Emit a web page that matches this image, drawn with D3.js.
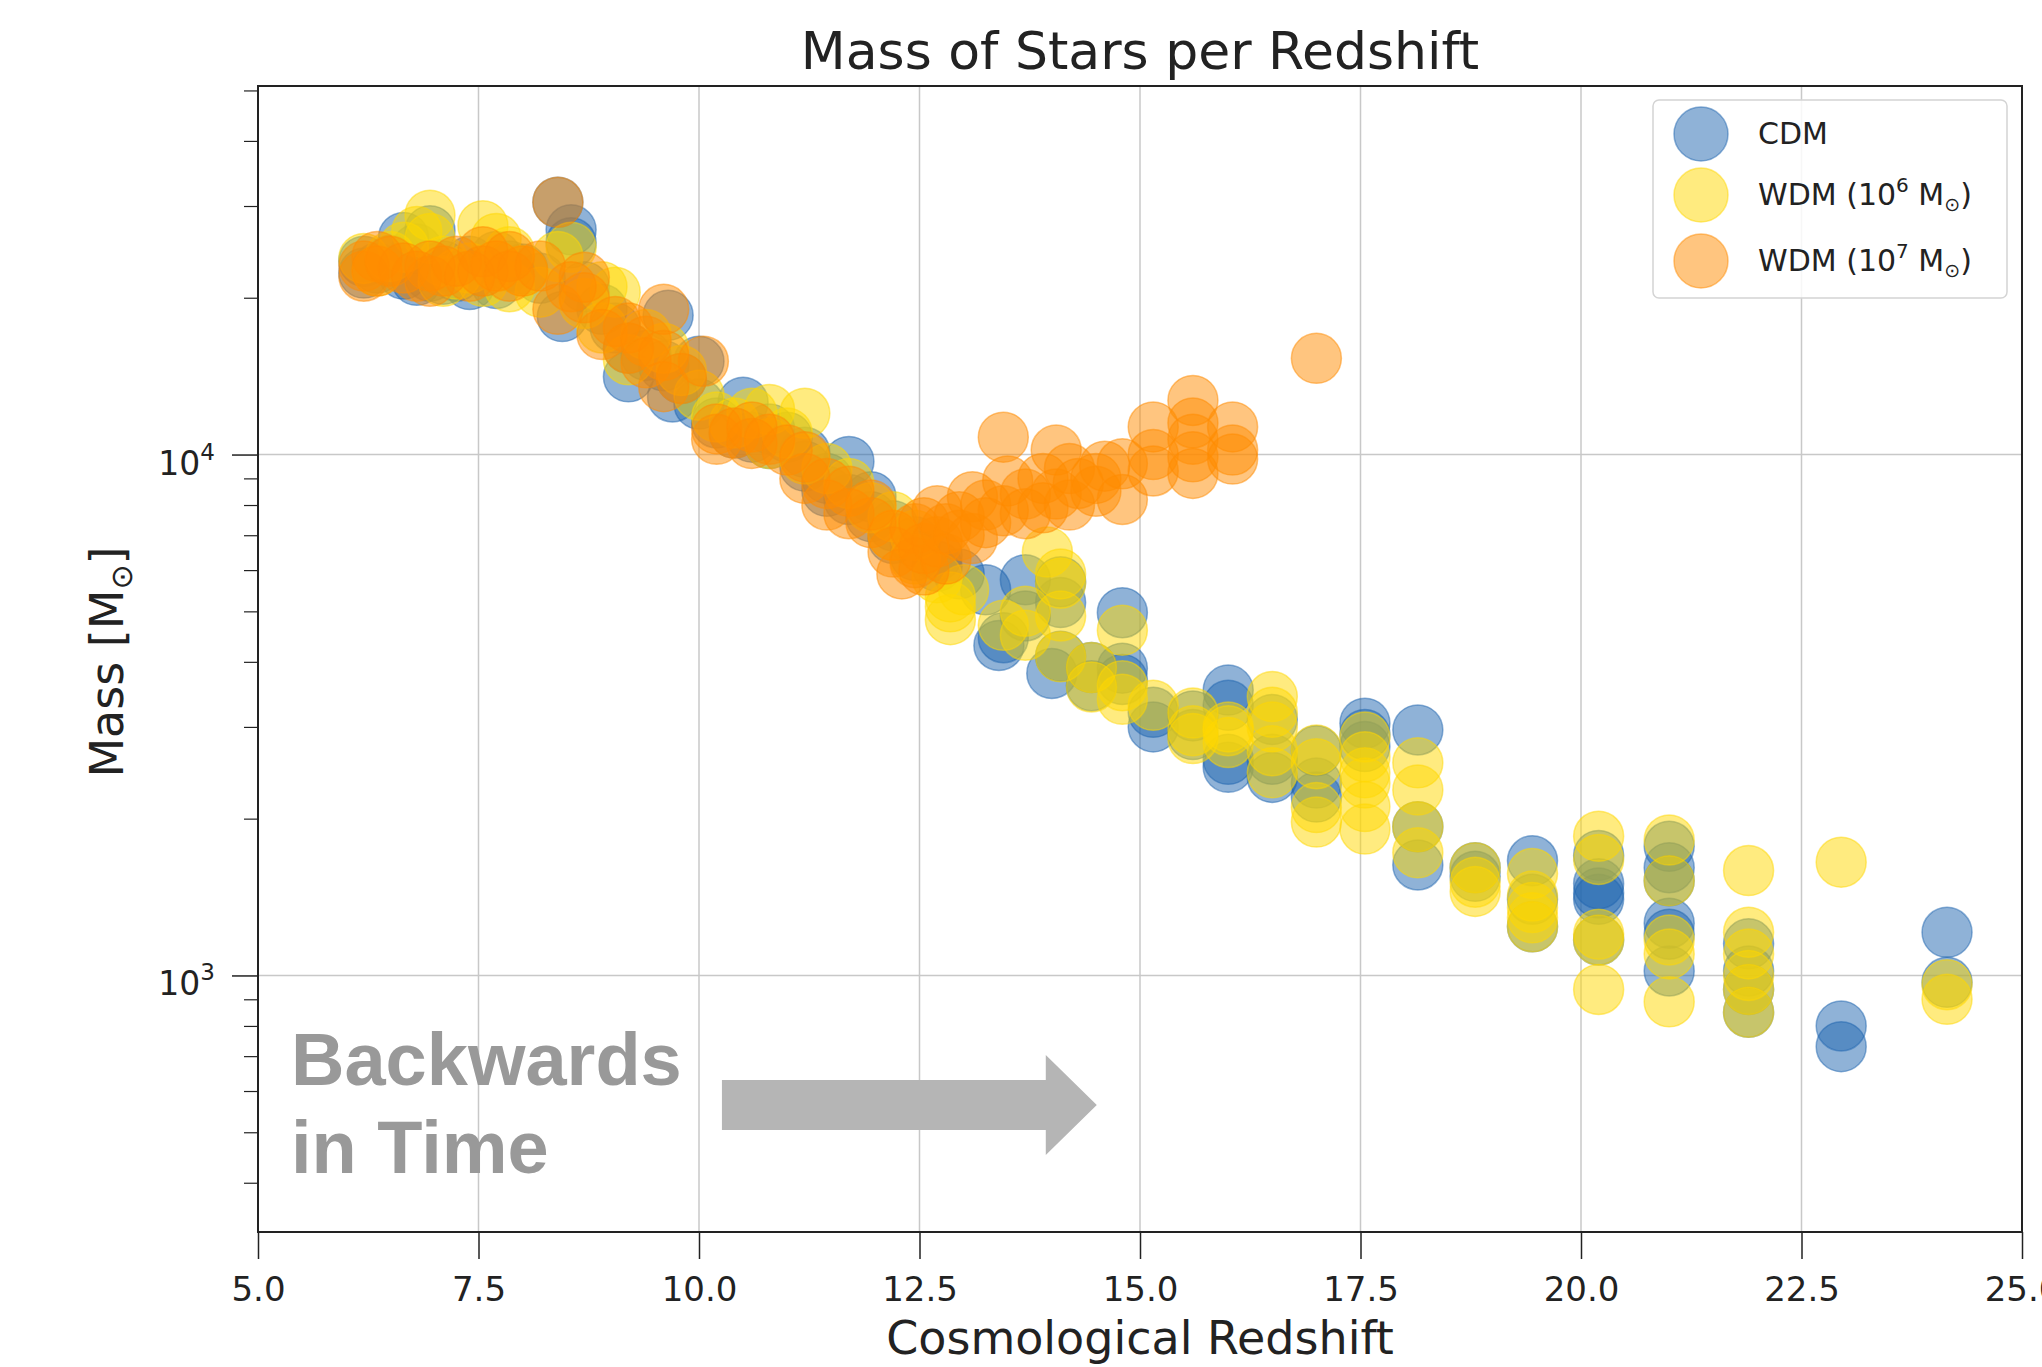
<!DOCTYPE html>
<html>
<head>
<meta charset="utf-8">
<script src="https://cdn.jsdelivr.net/npm/d3@7"></script>
<style>
  body { margin: 0; background: #ffffff; }
  svg text { font-family: "DejaVu Sans", sans-serif; fill: #222; }
</style>
</head>
<body>
<div id="container"></div>
<script>
// redshift, stellar mass [Msun]
const cdmPoints = [
    [6.2, 22300], [6.2, 23500], [6.35, 22800], [6.5, 23600], [6.65, 26100], [6.65, 22200],
    [6.8, 24800], [6.8, 21600], [6.95, 26900], [6.95, 22000], [7.1, 23000], [7.1, 21700],
    [7.25, 22000], [7.4, 23500], [7.4, 21200], [7.55, 22500], [7.7, 24000], [7.7, 21300],
    [7.85, 23000], [8.0, 22700], [8.2, 21800], [8.4, 30500], [8.45, 18400], [8.55, 27000],
    [8.55, 25500], [8.7, 21000], [8.9, 19000], [9.05, 17500], [9.2, 16000], [9.2, 14100],
    [9.4, 15500], [9.6, 14800], [9.65, 18500], [9.7, 12900], [9.8, 14000], [10.0, 15100],
    [10.0, 12500], [10.2, 11500], [10.4, 11000], [10.5, 12600], [10.6, 10800], [10.8, 11200],
    [10.8, 10500], [11.0, 10800], [11.2, 9500], [11.2, 10100], [11.45, 9000], [11.45, 8500],
    [11.7, 9700], [11.7, 8200], [11.95, 8300], [11.95, 7600], [12.2, 7300], [12.2, 6900],
    [12.45, 6800], [12.45, 6400], [12.7, 6400], [12.7, 6100], [12.95, 5900], [13.25, 5500],
    [13.4, 4300], [13.45, 4450], [13.7, 5750], [13.7, 4900], [14.1, 5700], [14.1, 5200],
    [14.1, 4100], [14.0, 3800], [14.45, 3600], [14.45, 3900], [14.8, 4970], [14.8, 3890],
    [14.8, 3700], [15.15, 3000], [15.15, 3200], [15.6, 3150], [15.6, 2900], [16.0, 3530],
    [16.0, 3300], [16.0, 2510], [16.0, 2600], [16.5, 3100], [16.5, 2400], [16.5, 2600],
    [17.0, 2700], [17.0, 2340], [17.0, 2200], [17.55, 3050], [17.55, 2900], [17.55, 2750],
    [18.15, 2960], [18.15, 1930], [18.15, 1630], [18.8, 1610], [18.8, 1550], [19.45, 1660],
    [19.45, 1400], [19.45, 1240], [20.2, 1700], [20.2, 1500], [20.2, 1440], [20.2, 1400],
    [20.2, 1170], [21.0, 1770], [21.0, 1610], [21.0, 1520], [21.0, 1260], [21.0, 1200],
    [21.0, 1020], [21.9, 1150], [21.9, 1020], [21.9, 940], [21.9, 850], [22.95, 800],
    [22.95, 730], [24.15, 1210], [24.15, 970]
]

const wdm6Points = [
    [6.2, 23800], [6.35, 22500], [6.5, 24000], [6.65, 25000], [6.8, 26800], [6.95, 28800],
    [6.95, 26000], [7.1, 23500], [7.1, 21500], [7.25, 22200], [7.4, 22800], [7.55, 27500],
    [7.55, 21500], [7.7, 26000], [7.7, 23000], [7.85, 24500], [7.85, 21000], [8.0, 22500],
    [8.2, 20500], [8.4, 24000], [8.55, 25000], [8.7, 19500], [8.9, 21000], [8.9, 17500],
    [9.05, 20500], [9.2, 15200], [9.4, 17000], [9.6, 16000], [9.8, 14500], [10.0, 13000],
    [10.2, 11800], [10.4, 11500], [10.6, 12000], [10.8, 12200], [10.8, 10500], [11.0, 11000],
    [11.2, 12000], [11.2, 9800], [11.45, 9400], [11.7, 8800], [11.95, 7900], [12.2, 7600],
    [12.2, 7000], [12.45, 7000], [12.45, 6300], [12.7, 5800], [12.85, 5330], [12.85, 4820],
    [12.85, 5100], [13.0, 5500], [13.95, 6500], [13.45, 4700], [13.7, 4500], [13.7, 5000],
    [14.1, 5900], [14.1, 5660], [14.1, 4900], [14.1, 4090], [14.45, 3580], [14.45, 3900],
    [14.8, 4600], [14.8, 3390], [14.8, 3600], [15.15, 3300], [15.6, 3190], [15.6, 2950],
    [15.6, 2850], [16.0, 3000], [16.0, 2950], [16.0, 2800], [16.5, 3430], [16.5, 3200],
    [16.5, 3000], [16.5, 2700], [16.5, 2450], [17.0, 2710], [17.0, 2550], [17.0, 2100],
    [17.0, 1970], [17.55, 2870], [17.55, 2630], [17.55, 2450], [17.55, 2340], [17.55, 2110],
    [17.55, 1910], [18.15, 2560], [18.15, 2270], [18.15, 1930], [18.15, 1720], [18.8, 1610],
    [18.8, 1510], [18.8, 1450], [19.45, 1570], [19.45, 1420], [19.45, 1350], [19.45, 1290],
    [19.45, 1240], [20.2, 1850], [20.2, 1670], [20.2, 1200], [20.2, 1170], [20.2, 940],
    [21.0, 1820], [21.0, 1520], [21.0, 1170], [21.0, 1100], [21.0, 890], [21.9, 1590],
    [21.9, 1210], [21.9, 1100], [21.9, 1000], [21.9, 940], [21.9, 850], [22.95, 1650],
    [24.15, 960], [24.15, 900]
]

const wdm7Points = [
    [6.2, 23000], [6.2, 22000], [6.35, 24000], [6.35, 22500], [6.5, 23500], [6.65, 22800],
    [6.8, 22000], [6.95, 21500], [6.95, 23000], [7.1, 22500], [7.25, 23500], [7.4, 22000],
    [7.55, 24500], [7.55, 22500], [7.7, 23000], [7.85, 24000], [7.85, 22000], [8.0, 22500],
    [8.2, 23000], [8.4, 30500], [8.4, 19000], [8.55, 21000], [8.7, 21900], [8.7, 20000],
    [8.9, 17000], [9.05, 18000], [9.2, 17500], [9.2, 16000], [9.4, 16500], [9.4, 15000],
    [9.6, 19000], [9.6, 15500], [9.6, 13500], [9.8, 14000], [10.05, 15100], [10.2, 11200],
    [10.2, 10700], [10.4, 11000], [10.6, 10500], [10.6, 11300], [10.8, 10700], [11.0, 10200],
    [11.2, 9900], [11.2, 9000], [11.45, 8800], [11.45, 8000], [11.7, 8500], [11.7, 7700],
    [11.95, 7400], [11.95, 8000], [12.2, 7000], [12.2, 6500], [12.3, 5900], [12.45, 6200],
    [12.45, 7200], [12.55, 6000], [12.55, 6600], [12.55, 7400], [12.7, 6800], [12.7, 7800],
    [12.8, 6300], [12.8, 7200], [12.95, 7600], [12.95, 7000], [13.1, 6900], [13.1, 8300],
    [13.25, 8000], [13.25, 7400], [13.45, 10800], [13.45, 7800], [13.5, 8900], [13.7, 8400],
    [13.7, 7700], [13.9, 7900], [13.9, 9000], [14.05, 10200], [14.05, 8400], [14.2, 8000],
    [14.2, 9400], [14.3, 8800], [14.5, 9000], [14.5, 8500], [14.6, 9500], [14.8, 8200],
    [14.8, 9600], [15.15, 11300], [15.15, 10000], [15.15, 9300], [15.6, 12700], [15.6, 11500],
    [15.6, 10700], [15.6, 9900], [15.6, 9200], [16.05, 11300], [16.05, 10200], [16.05, 9800],
    [17.0, 15300]
]

const seriesLabels = ['CDM', 'WDM', 'WDM']
const seriesExponents = [null, 6, 7]
const seriesColors = ['#1f66b0', '#ffd700', '#ff8c00']

const xTicks = [5, 7.5, 10, 12.5, 15, 17.5, 20, 22.5, 25]
const yMajorTicks = [1000, 10000]
const yMajorExponents = [3, 4]
const yMinorTicks = [400, 500, 600, 700, 800, 900, 2000, 3000, 4000, 5000, 6000, 7000, 8000, 9000,
    20000, 30000, 40000, 50000]

const config = {
    width: 2042,
    height: 1367,
    left: 258,
    right: 2022,
    top: 86,
    bottom: 1232,
    radius: 25,
    alpha: 0.5,
}

const svg = d3.select('#container')
    .append('svg')
    .attr('width', config.width)
    .attr('height', config.height)

const xScale = d3.scaleLinear()
    .domain([5, 25])
    .range([config.left, config.right])

const yScale = d3.scaleLog()
    .domain([Math.pow(10, 2.5075), Math.pow(10, 4.7075)])
    .range([config.bottom, config.top])

// grid
svg.append('g')
    .selectAll('line')
    .data(xTicks)
    .join('line')
    .attr('x1', d => xScale(d))
    .attr('x2', d => xScale(d))
    .attr('y1', config.top)
    .attr('y2', config.bottom)
    .attr('stroke', '#c8c8c8')
    .attr('stroke-width', 1.5)

svg.append('g')
    .selectAll('line')
    .data(yMajorTicks)
    .join('line')
    .attr('x1', config.left)
    .attr('x2', config.right)
    .attr('y1', d => yScale(d))
    .attr('y2', d => yScale(d))
    .attr('stroke', '#c8c8c8')
    .attr('stroke-width', 1.5)

svg.append('clipPath')
    .attr('id', 'plot-clip')
    .append('rect')
    .attr('x', config.left)
    .attr('y', config.top)
    .attr('width', config.right - config.left)
    .attr('height', config.bottom - config.top)

const allSeries = [cdmPoints, wdm6Points, wdm7Points]

allSeries.forEach((points, i) => {
    svg.append('g')
        .attr('clip-path', 'url(#plot-clip)')
        .selectAll('circle')
        .data(points)
        .join('circle')
        .attr('cx', d => xScale(d[0]))
        .attr('cy', d => yScale(d[1]))
        .attr('r', config.radius)
        .attr('fill', seriesColors[i])
        .attr('fill-opacity', config.alpha)
        .attr('stroke', seriesColors[i])
        .attr('stroke-opacity', config.alpha)
        .attr('stroke-width', 1.5)
})

// "Backwards in Time" note
const note = svg.append('g')
note.selectAll('text')
    .data(['Backwards', 'in Time'])
    .join('text')
    .text(d => d)
    .attr('x', config.left + 33)
    .attr('y', (_, i) => 1085 + i * 88)
    .style('font-family', '"Liberation Sans", Arial, sans-serif')
    .style('font-weight', 'bold')
    .style('font-size', '74px')
    .style('fill', '#999999')

const arrowStart = xScale(10.26)
const arrowTip = xScale(14.51)
const arrowY = 1105
const headBase = arrowTip - 51
note.append('polygon')
    .attr('points', [
        [arrowStart, arrowY - 25], [headBase, arrowY - 25], [headBase, arrowY - 50],
        [arrowTip, arrowY], [headBase, arrowY + 50], [headBase, arrowY + 25],
        [arrowStart, arrowY + 25]
    ].map(p => p.join(',')).join(' '))
    .attr('fill', '#b5b5b5')

// axes
const xAxis = svg.append('g')
    .attr('transform', `translate(0,${config.bottom})`)
    .call(d3.axisBottom(xScale)
        .tickValues(xTicks)
        .tickFormat(d3.format('.1f'))
        .tickSize(27)
        .tickPadding(18))
xAxis.select('.domain').remove()
xAxis.selectAll('line').attr('stroke', '#222').attr('stroke-width', 1.5)
xAxis.selectAll('text').style('font-size', '34px').attr('font-family', null)

const yAxis = svg.append('g')
    .attr('transform', `translate(${config.left},0)`)
    .call(d3.axisLeft(yScale).tickValues(yMajorTicks).tickSize(26).tickFormat(''))
yAxis.select('.domain').remove()
yAxis.selectAll('line').attr('stroke', '#222').attr('stroke-width', 1.5)

const yMinorAxis = svg.append('g')
    .attr('transform', `translate(${config.left},0)`)
    .call(d3.axisLeft(yScale).tickValues(yMinorTicks).tickSize(14).tickFormat(''))
yMinorAxis.select('.domain').remove()
yMinorAxis.selectAll('line').attr('stroke', '#222').attr('stroke-width', 1.2)

const yLabels = svg.append('g')
    .selectAll('text')
    .data(yMajorTicks)
    .join('text')
    .attr('x', config.left - 43)
    .attr('y', d => yScale(d) + 20)
    .attr('text-anchor', 'end')
    .style('font-size', '33px')
yLabels.append('tspan').text('10')
yLabels.append('tspan')
    .attr('dy', -15)
    .style('font-size', '23px')
    .text((_, i) => yMajorExponents[i])

// frame
svg.append('rect')
    .attr('x', config.left)
    .attr('y', config.top)
    .attr('width', config.right - config.left)
    .attr('height', config.bottom - config.top)
    .attr('fill', 'none')
    .attr('stroke', '#222')
    .attr('stroke-width', 2)

// titles
svg.append('text')
    .attr('x', (config.left + config.right) / 2)
    .attr('y', 69)
    .attr('text-anchor', 'middle')
    .style('font-size', '52px')
    .text('Mass of Stars per Redshift')

svg.append('text')
    .attr('x', (config.left + config.right) / 2)
    .attr('y', 1354)
    .attr('text-anchor', 'middle')
    .style('font-size', '46px')
    .text('Cosmological Redshift')

const yTitle = svg.append('text')
    .attr('transform', `translate(123,662) rotate(-90)`)
    .attr('text-anchor', 'middle')
    .style('font-size', '46px')
yTitle.append('tspan').text('Mass [M')
yTitle.append('tspan').attr('dy', 9).style('font-size', '30px').text('⊙')
yTitle.append('tspan').attr('dy', -9).text(']')

// legend
const legend = svg.append('g')
legend.append('rect')
    .attr('x', 1653)
    .attr('y', 100)
    .attr('width', 354)
    .attr('height', 198)
    .attr('rx', 6)
    .attr('fill', 'white')
    .attr('fill-opacity', 0.85)
    .attr('stroke', '#d4d4d4')
    .attr('stroke-width', 1.5)

const legendRows = [134, 195, 261]

legend.selectAll('circle')
    .data(seriesColors)
    .join('circle')
    .attr('cx', 1701)
    .attr('cy', (_, i) => legendRows[i])
    .attr('r', 27)
    .attr('fill', d => d)
    .attr('fill-opacity', config.alpha)
    .attr('stroke', d => d)
    .attr('stroke-opacity', config.alpha)
    .attr('stroke-width', 1.5)

const legendText = legend.selectAll('text')
    .data(seriesLabels)
    .join('text')
    .attr('x', 1758)
    .attr('y', (_, i) => legendRows[i] + 10)
    .style('font-size', '30px')

legendText.each(function (label, i) {
    const t = d3.select(this)
    if (seriesExponents[i] === null) {
        t.text(label)
        return
    }
    t.append('tspan').text(`${label} (10`)
    t.append('tspan').attr('dy', -13).style('font-size', '20px').text(seriesExponents[i])
    t.append('tspan').attr('dy', 13).text(' M')
    t.append('tspan').attr('dy', 6).style('font-size', '19px').text('⊙')
    t.append('tspan').attr('dy', -6).text(')')
})
</script>
</body>
</html>
